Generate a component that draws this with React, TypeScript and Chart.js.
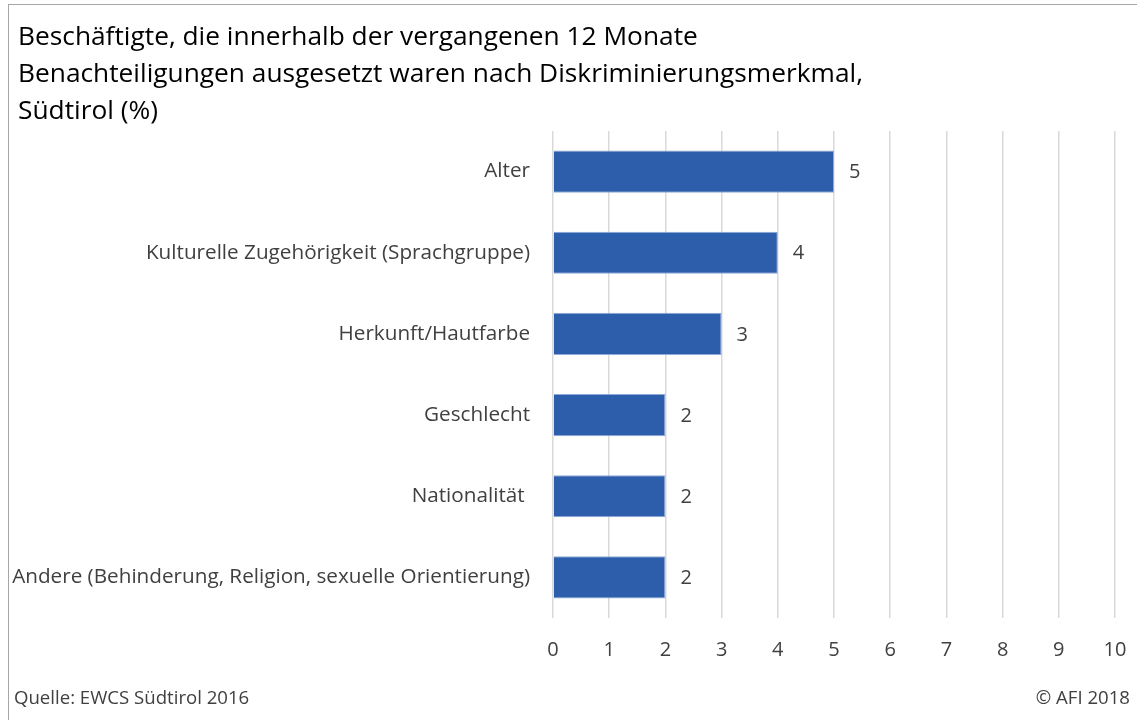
import React, { useEffect, useRef } from "react";
import { Chart, registerables } from "chart.js";

Chart.register(...registerables);

const categories: string[] = [
  "Alter",
  "Kulturelle Zugehörigkeit (Sprachgruppe)",
  "Herkunft/Hautfarbe",
  "Geschlecht",
  "Nationalität ",
  "Andere (Behinderung, Religion, sexuelle Orientierung)",
];
const values: number[] = [5, 4, 3, 2, 2, 2];
const titleLines: string[] = [
  "Beschäftigte, die innerhalb der vergangenen 12 Monate",
  "Benachteiligungen ausgesetzt waren nach Diskriminierungsmerkmal,",
  "Südtirol (%)",
];
const sourceText = "Quelle: EWCS Südtirol 2016";
const copyrightText = "© AFI 2018";

const FONT = "'Open Sans', sans-serif";

export default function App() {
  const ref = useRef<HTMLCanvasElement | null>(null);

  useEffect(() => {
    if (!ref.current) return;
    const decor = {
      id: "decor",
      beforeDraw(chart: any) {
        const ctx = chart.ctx;
        ctx.save();
        ctx.fillStyle = "#ffffff";
        ctx.fillRect(0, 0, chart.width, chart.height);
        ctx.strokeStyle = "#a6a6a6";
        ctx.lineWidth = 1;
        ctx.strokeRect(8.5, 4.5, 3000, 3000);
        ctx.fillStyle = "#000000";
        ctx.font = `26.3px ${FONT}`;
        ctx.textAlign = "left";
        ctx.textBaseline = "alphabetic";
        titleLines.forEach((t, i) => ctx.fillText(t, 18, 45 + i * 37));
        ctx.fillStyle = "#404040";
        ctx.font = `18.6px ${FONT}`;
        ctx.fillText(sourceText, 14, 704);
        ctx.textAlign = "right";
        ctx.fillText(copyrightText, 1130, 704);
        ctx.restore();
      },
      afterDatasetsDraw(chart: any) {
        const ctx = chart.ctx;
        const meta = chart.getDatasetMeta(0);
        ctx.save();
        ctx.fillStyle = "#404040";
        ctx.font = `20px ${FONT}`;
        ctx.textAlign = "left";
        ctx.textBaseline = "middle";
        meta.data.forEach((el: any, i: number) => {
          ctx.fillText(String(values[i]), el.x + 15, el.y + 1);
        });
        ctx.restore();
      },
    };

    const chart = new Chart(ref.current, {
      type: "bar",
      data: {
        labels: categories,
        datasets: [
          {
            data: values,
            backgroundColor: "#2c5eab",
            borderColor: "#8eaad8",
            borderWidth: 1,
            categoryPercentage: 1,
            barPercentage: 0.52,
          },
        ],
      },
      options: {
        indexAxis: "y",
        responsive: false,
        animation: false,
        layout: { padding: { top: 131, right: 22, left: 0, bottom: 0 } },
        plugins: {
          legend: { display: false },
          title: { display: false },
          tooltip: { enabled: false },
        },
        scales: {
          x: {
            min: 0,
            max: 10,
            ticks: {
              stepSize: 1,
              color: "#404040",
              font: { family: FONT, size: 20 },
              padding: 20,
            },
            grid: { color: "#d9d9d9", lineWidth: 1.5, drawTicks: false },
            border: { display: false },
            afterFit(scale: any) {
              scale.height = 102;
              scale.paddingRight = 0;
              scale.paddingLeft = 0;
            },
          },
          y: {
            ticks: {
              color: "#404040",
              font: { family: FONT, size: 20.7 },
              padding: 23,
            },
            grid: { display: false, drawTicks: false },
            border: { display: false },
            afterFit(scale: any) {
              scale.width = 553;
              scale.paddingTop = 0;
              scale.paddingBottom = 0;
            },
          },
        },
      },
      plugins: [decor],
    });
    return () => chart.destroy();
  }, []);

  return (
    <div style={{ position: "absolute", left: 0, top: 0, width: 1137, height: 720 }}>
      <canvas ref={ref} width={1137} height={720} style={{ display: "block" }} />
    </div>
  );
}
